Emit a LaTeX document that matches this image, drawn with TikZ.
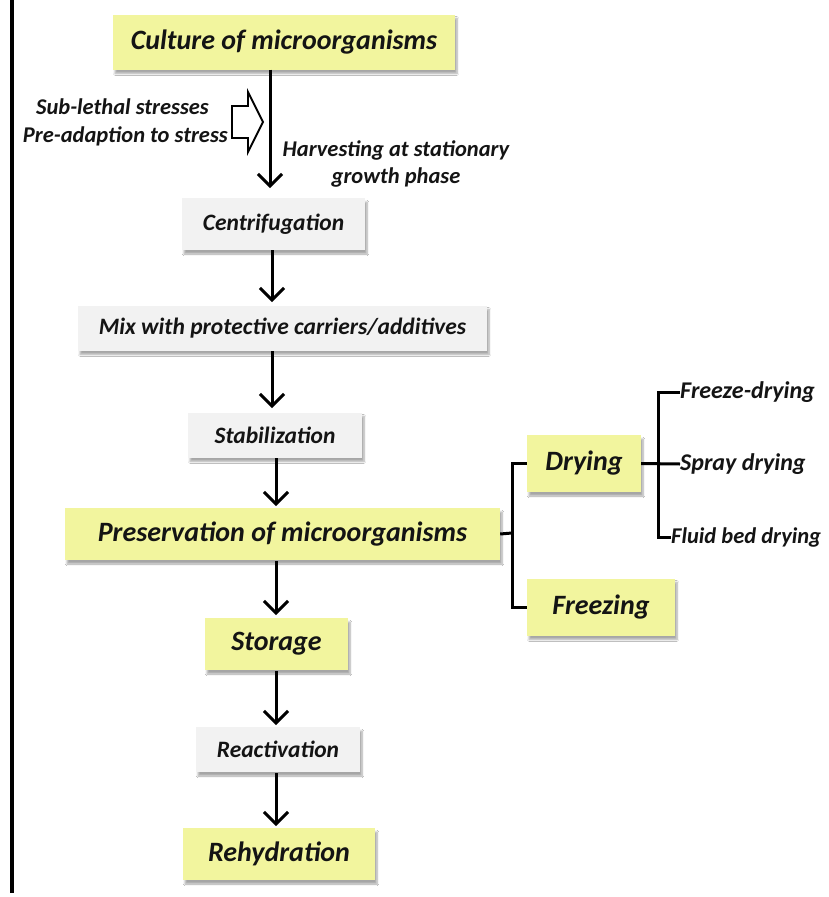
\documentclass[tikz,border=0pt]{standalone}
\usepackage{fontspec}
\setmainfont{Carlito}
\usetikzlibrary{arrows.meta,shadows.blur,calc}
\definecolor{boxyellow}{RGB}{242,245,158}
\definecolor{boxgray}{RGB}{242,242,242}
\definecolor{txt}{RGB}{20,20,20}
\tikzset{
  shad/.style={blur shadow={shadow xshift=2pt,shadow yshift=-4pt,shadow blur steps=6,shadow opacity=35}},
  ybox/.style={shad,fill=boxyellow,draw=none,inner sep=0pt,text=txt,font=\fontsize{28}{31}\selectfont\bfseries\itshape},
  gbox/.style={shad,fill=boxgray,draw=none,inner sep=0pt,text=txt,font=\fontsize{23.5}{26}\selectfont\bfseries\itshape},
  side/.style={text=txt,font=\fontsize{22.5}{27}\selectfont\bfseries\itshape,inner sep=0pt},
  sub/.style={text=txt,font=\fontsize{24}{27}\selectfont\bfseries\itshape,inner sep=0pt,anchor=west},
  flow/.style={line width=3pt,-{Straight Barb[length=12pt,width=24pt,line width=3pt]}},
  brk/.style={line width=3pt},
}
\begin{document}
\begin{tikzpicture}[x=1pt,y=-1pt]
\useasboundingbox (0,0) rectangle (829,897);
\fill[white] (0,0) rectangle (829,897);
% left black bar
\draw[line width=3.5pt] (12,0) -- (12,893);

% main boxes
\node[ybox,minimum width=342,minimum height=55] (cult) at (284,42) {Culture of microorganisms};
\node[gbox,minimum width=183,minimum height=52] (cent) at (273.5,224) {Centrifugation};
\node[gbox,minimum width=409,minimum height=45] (mix) at (282.5,328) {Mix with protective carriers/additives};
\node[gbox,minimum width=174,minimum height=45] (stab) at (275,435) {Stabilization};
\node[ybox,minimum width=435,minimum height=52] (pres) at (282.5,534) {Preservation of microorganisms};
\node[ybox,minimum width=143,minimum height=52] (stor) at (276.5,644) {Storage};
\node[gbox,minimum width=164,minimum height=45] (react) at (278,749.5) {Reactivation};
\node[ybox,minimum width=192,minimum height=52] (rehy) at (279,854) {Rehydration};

% right boxes
\node[ybox,minimum width=114,minimum height=57] (dry) at (584,463.5) {Drying};
\node[ybox,minimum width=148,minimum height=57] (frz) at (601,607) {Freezing};

% flow arrows
\draw[flow] (cult.south -| 270,0) -- (270,188);
\draw[flow] (272,250) -- (272,302);
\draw[flow] (272,351) -- (272,408);
\draw[flow] (276,458) -- (276,506);
\draw[flow] (276,561) -- (276,615);
\draw[flow] (276,671) -- (276,725);
\draw[flow] (276,773) -- (276,826);

% hollow block arrow
\draw[line width=1.8pt,fill=white,line join=miter]
  (232,106) -- (248,106) -- (248,92) -- (263,122) -- (248,152) -- (248,138) -- (232,138) -- cycle;

% side texts
\node[side,anchor=east] (sub1) at (209,107) {Sub-lethal stresses};
\node[side,anchor=east] (sub2) at (228,136) {Pre-adaption to stress};
\node[side,align=center] (harv) at (396,164) {Harvesting at stationary\\growth phase};

% bracket preservation -> drying/freezing
\coordinate (b1) at (512,533);
\draw[brk] (pres.east) -- (b1);
\draw[brk] (dry.west) -- (512,463.5) -- (512,607) -- (frz.west);

% bracket drying -> methods
\node[sub] (fd) at (680,392) {Freeze-drying};
\node[sub] (sd) at (680,464) {Spray drying};
\node[sub,font=\fontsize{22.5}{26}\selectfont\bfseries\itshape] (fb) at (671,537) {Fluid bed drying};
\draw[brk] (dry.east) -- (sd.west);
\draw[brk] (fd.west) -- (658,392) -- (658,537) -- (fb.west);
\end{tikzpicture}
\end{document}
